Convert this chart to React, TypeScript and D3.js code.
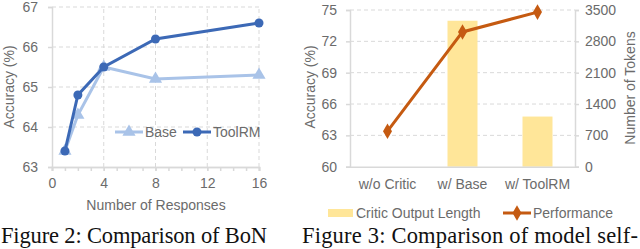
import { useRef, useEffect } from "react";
import * as d3 from "d3";

// left chart: best-of-N
const responses = [1, 2, 4, 8, 16];
const baseAcc = [63.4, 64.3, 65.5, 65.2, 65.3];
const toolrmAcc = [63.4, 64.8, 65.5, 66.2, 66.6];
const bonXTicks = [0, 4, 8, 12, 16];
const bonYTicks = [63, 64, 65, 66, 67];

// right chart: self-correction
const critics = ["w/o Critic", "w/ Base", "w/ ToolRM"];
const outputLength = [0, 3260, 1120];
const performance = [63.4, 72.9, 74.8];
const accTicks = [60, 63, 66, 69, 72, 75];
const tokenTicks = [0, 700, 1400, 2100, 2800, 3500];

const FONT = "'Liberation Sans', Arial, sans-serif";
const SERIF = "'Liberation Serif', 'Times New Roman', serif";
const TXT = "#6b6b6b";
const AXIS = "#d9d9d9";
const BASE_C = "#a9c3e8";
const TOOL_C = "#3c69b6";
const ORANGE = "#c55a11";
const YELLOW = "#ffe699";

export default function App() {
  const ref = useRef<SVGSVGElement>(null);

  useEffect(() => {
    if (!ref.current) return;
    const svg = d3.select(ref.current);
    svg.selectAll("*").remove();

    const styleAxis = (g: any) => {
      g.selectAll(".domain").attr("stroke", AXIS).attr("stroke-width", 1.5);
      g.selectAll(".tick line").attr("stroke", AXIS).attr("stroke-width", 1.5);
      g.selectAll("text").attr("fill", TXT).attr("font-size", "14px").attr("font-family", FONT);
    };
    const fmt = d3.format("d");

    // ---------- left chart ----------
    const L = svg.append("g");
    const x = d3.scaleLinear().domain([0, 16]).range([52, 259]);
    const y = d3.scaleLinear().domain([63, 67]).range([167, 7]);

    L.append("g").selectAll("line").data(bonYTicks.slice(1)).enter().append("line")
      .attr("x1", x(0)).attr("x2", x(16)).attr("y1", d => y(d)).attr("y2", d => y(d))
      .attr("stroke", AXIS).attr("stroke-dasharray", "4,3");
    L.append("g").selectAll("line").data(bonXTicks.slice(1)).enter().append("line")
      .attr("x1", d => x(d)).attr("x2", d => x(d)).attr("y1", y(63)).attr("y2", y(67))
      .attr("stroke", AXIS).attr("stroke-dasharray", "4,3");

    const xMinor = L.append("g").attr("transform", `translate(0,${y(63)})`)
      .call(d3.axisBottom(x).tickValues(d3.range(0, 17)).tickSize(4).tickFormat(() => ""));
    styleAxis(xMinor);
    const xAx = L.append("g").attr("transform", `translate(0,${y(63)})`)
      .call(d3.axisBottom(x).tickValues(bonXTicks).tickSize(4).tickPadding(7).tickFormat(fmt as any));
    styleAxis(xAx);
    const yAx = L.append("g").attr("transform", `translate(${x(0)},0)`)
      .call(d3.axisLeft(y).tickValues(bonYTicks).tickSize(4).tickPadding(10).tickFormat(fmt as any));
    styleAxis(yAx);

    L.append("text").attr("transform", `translate(14,87) rotate(-90)`).attr("text-anchor", "middle")
      .attr("fill", TXT).attr("font-size", "14px").attr("font-family", FONT).text("Accuracy (%)");
    L.append("text").attr("x", 156).attr("y", 210).attr("text-anchor", "middle")
      .attr("fill", TXT).attr("font-size", "14px").attr("font-family", FONT).text("Number of Responses");

    const line = d3.line<number>().x((_, i) => x(responses[i]));
    L.append("path").attr("d", line.y(d => y(d))(baseAcc)).attr("fill", "none")
      .attr("stroke", BASE_C).attr("stroke-width", 3);
    const tri = d3.symbol().type(d3.symbolTriangle).size(75);
    L.selectAll(".tri").data(baseAcc).enter().append("path")
      .attr("d", tri).attr("transform", (d, i) => `translate(${x(responses[i])},${y(d)})`).attr("fill", BASE_C);
    L.append("path").attr("d", line.y(d => y(d))(toolrmAcc)).attr("fill", "none")
      .attr("stroke", TOOL_C).attr("stroke-width", 3);
    L.selectAll(".dot").data(toolrmAcc).enter().append("circle")
      .attr("cx", (_, i) => x(responses[i])).attr("cy", d => y(d)).attr("r", 4.5).attr("fill", TOOL_C);

    // legend
    const lg = L.append("g").attr("transform", "translate(115,132)");
    lg.append("line").attr("x1", 0).attr("x2", 28).attr("stroke", BASE_C).attr("stroke-width", 3);
    lg.append("path").attr("d", tri).attr("transform", "translate(14,0)").attr("fill", BASE_C);
    lg.append("text").attr("x", 30).attr("y", 5).attr("fill", TXT).attr("font-size", "14px")
      .attr("font-family", FONT).text("Base");
    lg.append("line").attr("x1", 68).attr("x2", 96).attr("stroke", TOOL_C).attr("stroke-width", 3);
    lg.append("circle").attr("cx", 82).attr("r", 4.5).attr("fill", TOOL_C);
    lg.append("text").attr("x", 98).attr("y", 5).attr("fill", TXT).attr("font-size", "14px")
      .attr("font-family", FONT).text("ToolRM");

    // ---------- right chart ----------
    const R = svg.append("g");
    const xb = d3.scaleBand().domain(critics).range([350, 575]).paddingInner(0.6).paddingOuter(0.3);
    const ya = d3.scaleLinear().domain([60, 75]).range([166.7, 10]);
    const yt = d3.scaleLinear().domain([0, 3500]).range([166.7, 10]);

    R.append("g").selectAll("line").data(accTicks.slice(1)).enter().append("line")
      .attr("x1", 350).attr("x2", 575).attr("y1", d => ya(d)).attr("y2", d => ya(d))
      .attr("stroke", AXIS).attr("stroke-dasharray", "4,3");

    R.selectAll(".bar").data(outputLength).enter().append("rect")
      .attr("x", (_, i) => xb(critics[i])!).attr("width", xb.bandwidth())
      .attr("y", d => yt(d)).attr("height", d => yt(0) - yt(d)).attr("fill", YELLOW);

    const bx = R.append("g").attr("transform", `translate(0,${ya(60)})`)
      .call(d3.axisBottom(xb).tickSize(0).tickPadding(12));
    styleAxis(bx);
    const la = R.append("g").attr("transform", "translate(350,0)")
      .call(d3.axisLeft(ya).tickValues(accTicks).tickSize(4).tickPadding(9).tickFormat(fmt as any));
    styleAxis(la);
    const ra = R.append("g").attr("transform", "translate(575,0)")
      .call(d3.axisRight(yt).tickValues(tokenTicks).tickSize(4).tickPadding(6).tickFormat(fmt as any));
    styleAxis(ra);

    R.append("text").attr("transform", "translate(315,87) rotate(-90)").attr("text-anchor", "middle")
      .attr("fill", TXT).attr("font-size", "14px").attr("font-family", FONT).text("Accuracy (%)");
    R.append("text").attr("transform", "translate(635,88) rotate(-90)").attr("text-anchor", "middle")
      .attr("fill", TXT).attr("font-size", "14px").attr("font-family", FONT).text("Number of Tokens");

    const cx = (i: number) => xb(critics[i])! + xb.bandwidth() / 2;
    R.append("path").attr("d", d3.line<number>().x((_, i) => cx(i)).y(d => ya(d))(performance))
      .attr("fill", "none").attr("stroke", ORANGE).attr("stroke-width", 3);
    const dia = d3.symbol().type(d3.symbolDiamond).size(70);
    R.selectAll(".dia").data(performance).enter().append("path")
      .attr("d", dia).attr("transform", (d, i) => `translate(${cx(i)},${ya(d)})`).attr("fill", ORANGE);

    const rl = R.append("g").attr("transform", "translate(328,213)");
    rl.append("rect").attr("x", 0).attr("y", -4).attr("width", 25).attr("height", 8).attr("fill", YELLOW);
    rl.append("text").attr("x", 28).attr("y", 5).attr("fill", TXT).attr("font-size", "14px")
      .attr("font-family", FONT).text("Critic Output Length");
    rl.append("line").attr("x1", 175).attr("x2", 203).attr("stroke", ORANGE).attr("stroke-width", 3);
    rl.append("path").attr("d", dia).attr("transform", "translate(189,0)").attr("fill", ORANGE);
    rl.append("text").attr("x", 205).attr("y", 5).attr("fill", TXT).attr("font-size", "14px")
      .attr("font-family", FONT).text("Performance");

    // captions
    svg.append("text").attr("x", 1).attr("y", 243).attr("font-size", "22.5px").attr("font-family", SERIF)
      .attr("fill", "#111").attr("textLength", 266).attr("lengthAdjust", "spacing")
      .text("Figure 2: Comparison of BoN");
    svg.append("text").attr("x", 302).attr("y", 243).attr("font-size", "22.5px").attr("font-family", SERIF)
      .attr("fill", "#111").attr("textLength", 336).attr("lengthAdjust", "spacing")
      .text("Figure 3: Comparison of model self-");
  }, []);

  return (
    <svg ref={ref} width={640} height={249}
      style={{ position: "fixed", top: 0, left: 0, background: "#fff" }} />
  );
}
